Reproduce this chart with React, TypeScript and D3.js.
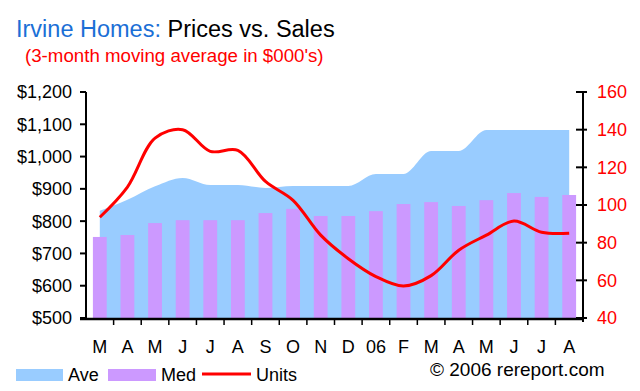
import { useEffect, useRef } from "react";
import * as d3 from "d3";

// monthly categories (Mar 2005 .. Aug 2006)
const months = ["M", "A", "M", "J", "J", "A", "S", "O", "N", "D", "06", "F", "M", "A", "M", "J", "J", "A"];
// average price, $000's (area)
const avePrice = [832, 866, 908, 934, 912, 912, 903, 909, 909, 909, 946, 946, 1017, 1017, 1082, 1082, 1082, 1082];
// median price, $000's (bars)
const medPrice = [751, 757, 794, 803, 803, 803, 825, 838, 816, 816, 831, 853, 859, 847, 865, 887, 875, 881];
// units sold (line, right axis)
const units = [93.5, 109.5, 135.5, 140, 128.5, 129, 112.5, 102.5, 84, 71.5, 62, 57, 62.5, 76, 84, 91.5, 85.5, 85];

const priceTicks = [500, 600, 700, 800, 900, 1000, 1100, 1200];
const unitTicks = [40, 60, 80, 100, 120, 140, 160];

export default function App() {
  const svgRef = useRef<SVGSVGElement>(null);

  useEffect(() => {
    const W = 640, H = 391;
    const left = 86, right = 583, top = 92, bottom = 318;
    const font = "'Liberation Sans', Arial, sans-serif";

    const svg = d3.select(svgRef.current)
      .attr("width", W)
      .attr("height", H)
      .style("font-family", font);
    svg.selectAll("*").remove();

    const idx = months.map((_, i) => i);

    const xBand = d3.scaleBand<number>()
      .domain(idx)
      .range([left, right])
      .paddingInner(0.5)
      .paddingOuter(0.25);

    const xPt = d3.scalePoint<number>()
      .domain(idx)
      .range([left, right])
      .padding(0.5);

    const yPrice = d3.scaleLinear().domain([500, 1200]).range([bottom, top]);
    const yUnits = d3.scaleLinear().domain([40, 160]).range([bottom, top]);

    // title
    const title = svg.append("text").attr("x", 16).attr("y", 37).attr("font-size", 23.5);
    title.append("tspan").attr("fill", "#1b6fd6").text("Irvine Homes:");
    title.append("tspan").attr("fill", "#000").text(" Prices vs. Sales");

    svg.append("text")
      .attr("x", 25).attr("y", 62)
      .attr("font-size", 18.7)
      .attr("fill", "#ff0000")
      .text("(3-month moving average in $000's)");

    // average price area
    const area = d3.area<number>()
      .x((_, i) => xPt(i)!)
      .y0(bottom)
      .y1(d => yPrice(d))
      .curve(d3.curveMonotoneX);

    svg.append("path")
      .datum(avePrice)
      .attr("fill", "#99ccff")
      .attr("d", area);

    // median price bars
    svg.append("g")
      .selectAll("rect")
      .data(medPrice)
      .join("rect")
      .attr("x", (_, i) => xBand(i)!)
      .attr("width", xBand.bandwidth())
      .attr("y", d => yPrice(d))
      .attr("height", d => bottom - yPrice(d))
      .attr("fill", "#cc99ff");

    // units line
    const line = d3.line<number>()
      .x((_, i) => xPt(i)!)
      .y(d => yUnits(d))
      .curve(d3.curveCatmullRom.alpha(0.5));

    svg.append("path")
      .datum(units)
      .attr("fill", "none")
      .attr("stroke", "#ff0000")
      .attr("stroke-width", 3)
      .attr("d", line);

    // left axis
    const gl = svg.append("g");
    gl.append("line").attr("x1", left).attr("x2", left).attr("y1", top).attr("y2", bottom)
      .attr("stroke", "#000").attr("stroke-width", 2);
    gl.selectAll("line.t").data(priceTicks).join("line").attr("class", "t")
      .attr("x1", left - 6).attr("x2", left)
      .attr("y1", d => yPrice(d)).attr("y2", d => yPrice(d))
      .attr("stroke", "#000").attr("stroke-width", 2);
    gl.selectAll("text").data(priceTicks).join("text")
      .attr("x", 72)
      .attr("y", d => yPrice(d))
      .attr("dy", "0.36em")
      .attr("text-anchor", "end")
      .attr("font-size", 18)
      .attr("fill", "#000")
      .text(d => d3.format("$,")(d));

    // right axis
    const gr = svg.append("g");
    gr.append("line").attr("x1", right).attr("x2", right).attr("y1", top).attr("y2", bottom + 4)
      .attr("stroke", "#000").attr("stroke-width", 2);
    gr.selectAll("line.t").data(unitTicks).join("line").attr("class", "t")
      .attr("x1", right - 7).attr("x2", right + 4)
      .attr("y1", d => yUnits(d)).attr("y2", d => yUnits(d))
      .attr("stroke", "#000").attr("stroke-width", 2);
    gr.selectAll("text").data(unitTicks).join("text")
      .attr("x", 597)
      .attr("y", d => yUnits(d))
      .attr("dy", "0.36em")
      .attr("font-size", 18)
      .attr("fill", "#ff0000")
      .text(d => d);

    // bottom axis
    const gb = svg.append("g");
    gb.append("line").attr("x1", left - 6).attr("x2", right).attr("y1", bottom + 1).attr("y2", bottom + 1)
      .attr("stroke", "#000").attr("stroke-width", 2.5);
    gb.selectAll("line.t").data(idx.slice(1)).join("line").attr("class", "t")
      .attr("x1", i => xBand(i)! - xBand.step() * 0.25)
      .attr("x2", i => xBand(i)! - xBand.step() * 0.25)
      .attr("y1", bottom + 1).attr("y2", bottom + 7)
      .attr("stroke", "#000").attr("stroke-width", 1.5);
    gb.selectAll("text").data(months).join("text")
      .attr("x", (_, i) => xPt(i)!)
      .attr("y", 353)
      .attr("text-anchor", "middle")
      .attr("font-size", 18)
      .attr("fill", "#000")
      .text(d => d);

    // legend
    const lg = svg.append("g").attr("font-size", 18).attr("fill", "#000");
    lg.append("rect").attr("x", 16).attr("y", 369).attr("width", 47).attr("height", 12).attr("fill", "#99ccff");
    lg.append("text").attr("x", 68).attr("y", 381).text("Ave");
    lg.append("rect").attr("x", 108).attr("y", 369).attr("width", 48).attr("height", 12).attr("fill", "#cc99ff");
    lg.append("text").attr("x", 161).attr("y", 381).text("Med");
    lg.append("line").attr("x1", 202).attr("x2", 251).attr("y1", 374).attr("y2", 374)
      .attr("stroke", "#ff0000").attr("stroke-width", 3);
    lg.append("text").attr("x", 256).attr("y", 381).text("Units");

    svg.append("text")
      .attr("x", 430).attr("y", 376)
      .attr("font-size", 19)
      .attr("fill", "#000")
      .text("\u00a9 2006 rereport.com");
  }, []);

  return (
    <div style={{ position: "absolute", left: 0, top: 0 }}>
      <svg ref={svgRef}></svg>
    </div>
  );
}
